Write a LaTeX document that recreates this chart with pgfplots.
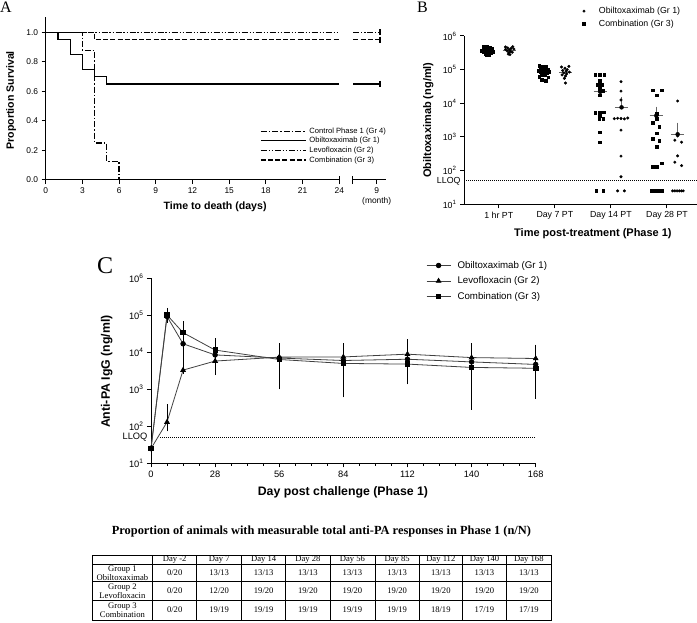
\documentclass[border=0pt]{standalone}
\usepackage{pgfplots}
\pgfplotsset{compat=1.18}
\usepackage{fontspec}
\setmainfont{Liberation Sans}
\newfontfamily\timesfont{Liberation Serif}

\pgfplotsset{
  gp/.style={scale only axis, axis x line*=bottom, axis y line*=left,
    axis line style={line width=1pt, black}, tick style={line width=1pt, black},
    tick align=outside, major tick length=4pt, minor tick length=2.5pt,
    /pgf/number format/assume math mode=true, clip=false},
  meanl/.style={gray!80!black, line width=1pt, mark=none, forget plot},
  semb/.style={only marks, mark=none, forget plot, error bars/y dir=plus, error bars/y explicit,
    error bars/error bar style={draw=gray!80!black, line width=1pt},
    error bars/error mark options={draw=gray!80!black, mark size=3.5pt, line width=1pt}},
  mklegend/.style={legend image code/.code={\path[draw=none] (0pt,0pt) -- (26pt,0pt); \draw[##1, only marks, mark indices={2}] plot coordinates {(0pt,0pt) (13pt,0pt) (26pt,0pt)};}},
  sq/.style={only marks, mark=square*, mark size=1.35pt, black, mklegend},
  dt/.style={only marks, mark=*, mark size=1.3pt, black, mklegend},
  cyc/.style={black!75, line width=0.8pt, mark options={black, solid}, mark size=2.3pt,
    error bars/y dir=both, error bars/y explicit, error bars/error bar style={black, line width=0.8pt},
    error bars/error mark options={black, mark size=3.5pt, line width=0.8pt}},
}

\pgfplotstableread{
x y ep em
0 25 0 0
7 93000 30000 15000
14 17000 8000 1
28 8500 6500 5000
56 7000 3000 3500
84 6000 4000 4000
112 6500 4000 4000
140 5500 4000 4100
168 4700 4000 3550
}\obilt
\pgfplotstableread{
x y ep em
0 25 0 0
7 130 190 40
14 3300 8700 1
28 5800 1 2800
56 7400 6600 3700
84 7500 6500 4500
112 8900 9100 5400
140 7200 6800 5200
168 6800 6200 4900
}\levo
\pgfplotstableread{
x y ep em
0 25 0 0
7 102000 25000 10000
14 34000 22000 8000
28 11500 7500 3000
56 6400 3000 5170
84 5000 3000 4250
112 4800 3000 3100
140 3900 3000 3550
168 3700 2500 3000
}\comb

\begin{document}
\begin{tikzpicture}
\useasboundingbox (0pt,0pt) rectangle (697pt,-623pt);

% panel letters
\node[font=\timesfont\fontsize{16pt}{16pt}\selectfont, anchor=north west, inner sep=0pt] at (0pt,-2pt) {A};
\node[font=\timesfont\fontsize{16pt}{16pt}\selectfont, anchor=north west, inner sep=0pt] at (417pt,-2pt) {B};
\node[font=\timesfont\fontsize{24pt}{24pt}\selectfont, anchor=north west, inner sep=0pt] at (97pt,-257pt) {C};

% ---------------- Panel A ----------------
\begin{axis}[gp, at={(45.7pt,-180pt)}, anchor=south west,
  width=293.6pt, height=162.6pt, xmin=0, xmax=24, ymin=0, ymax=1.1,
  xtick={0,3,...,24}, ytick={0,0.2,0.4,0.6,0.8,1.0},
  yticklabel style={/pgf/number format/.cd, fixed, fixed zerofill, precision=1},
  tick label style={font=\fontsize{8.4pt}{10pt}\selectfont},
  extra x ticks={24}, extra x tick labels={}, extra x tick style={tick align=center, major tick length=8pt},
  xlabel={Time to death (days)}, ylabel={Proportion Survival},
  label style={font=\bfseries\fontsize{10.6pt}{12pt}\selectfont},
  xlabel style={at={(axis description cs:0.577,0)}, anchor=center, yshift=-26.7pt},
  ylabel style={at={(axis description cs:-0.118,0.49)}, anchor=center},
  legend style={at={(axis description cs:0.72,0.345)}, anchor=north west, draw=none, fill=none,
    font=\fontsize{7.6pt}{8pt}\selectfont, row sep=-0.6pt, nodes={inner sep=1.6pt}},
  legend cell align=left,
  legend image code/.code={\draw[#1] (0pt,0pt) -- (45pt,0pt); \path[draw=none] (0pt,0pt) -- (47pt,0pt);},
]
\addplot[const plot, black, line width=1.2pt, dash pattern=on 6pt off 2pt on 1.5pt off 2pt]
  coordinates {(0,1) (3,0.875) (4,0.25) (5,0.125) (6,0)};
\addlegendentry{Control Phase 1 (Gr 4)}
\addplot[const plot, black, line width=1.2pt]
  coordinates {(0,1) (1,0.95) (2,0.85) (3,0.75) (4,0.70) (5,0.65) (24,0.65)};
\addlegendentry{Obiltoxaximab (Gr 1)}
\addplot[const plot, black, line width=1.2pt, dash pattern=on 6pt off 1.8pt on 1.3pt off 1.8pt on 1.3pt off 1.8pt]
  coordinates {(0,1) (24,1)};
\addlegendentry{Levofloxacin (Gr 2)}
\addplot[const plot, black, line width=1.2pt, dash pattern=on 5pt off 2.2pt]
  coordinates {(0,1) (4,0.95) (24,0.95)};
\addlegendentry{Combination (Gr 3)}
\end{axis}

% month segment
\begin{axis}[gp, axis y line=none, at={(352.7pt,-180pt)}, anchor=south west,
  width=33pt, height=162.6pt, xmin=0, xmax=1, ymin=0, ymax=1.1,
  xtick={0.727}, xticklabels={{9\\(month)}},
  xticklabel style={align=center, font=\fontsize{8.4pt}{10pt}\selectfont},
  extra x ticks={0}, extra x tick labels={}, extra x tick style={tick align=center, major tick length=8pt},
]
\addplot[black, line width=1.2pt, dash pattern=on 6pt off 1.8pt on 1.3pt off 1.8pt on 1.3pt off 1.8pt,
  mark=|, mark indices={2}, mark size=3pt, mark options={solid}] coordinates {(0.02,1) (0.83,1)};
\addplot[black, line width=1.2pt, dash pattern=on 5pt off 2.2pt,
  mark=|, mark indices={2}, mark size=3pt, mark options={solid}] coordinates {(0.02,0.95) (0.83,0.95)};
\addplot[black, line width=1.2pt,
  mark=|, mark indices={2}, mark size=3pt, mark options={solid}] coordinates {(0.02,0.65) (0.83,0.65)};
\end{axis}

% ---------------- Panel B ----------------
\begin{axis}[gp, at={(464pt,-204.3pt)}, anchor=south west,
  width=232.7pt, height=168.3pt, xmin=0.38, xmax=4.53,
  ymode=log, ymin=10, ymax=1000000, yminorticks=false,
  xtick={1,2,3,4}, xticklabels={1 hr PT, Day 7 PT, Day 14 PT, Day 28 PT},
  ytick={10,100,1000,10000,100000,1000000},
  yticklabels={10\textsuperscript{1},10\textsuperscript{2},10\textsuperscript{3},10\textsuperscript{4},10\textsuperscript{5},10\textsuperscript{6}},
  extra y ticks={50}, extra y tick labels={LLOQ}, extra y tick style={major tick length=0pt},
  tick label style={font=\fontsize{8.8pt}{10pt}\selectfont},
  xlabel={Time post-treatment (Phase 1)}, ylabel={Obiltoxaximab (ng/ml)},
  label style={font=\bfseries\fontsize{11pt}{13pt}\selectfont},
  xlabel style={at={(axis description cs:0.554,0)}, anchor=center, yshift=-29pt},
  ylabel style={at={(axis description cs:-0.153,0.50)}, anchor=center},
  legend style={at={(axis description cs:0.446,1.196)}, anchor=north west, draw=none, fill=none,
    font=\fontsize{8.8pt}{10pt}\selectfont, row sep=1pt},
  legend cell align=left,
]
% Obiltoxaximab (Gr 1): dots, right of each category
\addplot[dt] coordinates {
 (1.12,470000)(1.25,480000)(1.16,440000)(1.22,430000)(1.12,400000)(1.19,390000)(1.27,410000)
 (1.15,360000)(1.21,350000)(1.18,320000)(1.24,330000)(1.17,290000)(1.20,280000)
 (2.12,120000)(2.25,125000)(2.18,110000)(2.22,100000)(2.14,95000)(2.20,90000)(2.26,85000)
 (2.16,80000)(2.21,75000)(2.13,70000)(2.19,65000)(2.17,55000)(2.19,40000)
 (3.18,44000)(3.18,23000)(3.18,12600)(3.06,3500)(3.12,3600)(3.18,3550)(3.24,3450)(3.30,3650)
 (3.18,1600)(3.18,270)(3.18,66)(3.12,25)(3.24,25)
 (4.19,11700)(4.19,1070)(4.14,800)(4.26,700)(4.19,275)(4.14,178)(4.26,141)
 (4.10,25)(4.14,25)(4.18,25)(4.22,25)(4.26,25)(4.29,25)
};
\addlegendentry{Obiltoxaximab (Gr 1)}
% Combination (Gr 3): squares, left of each category
\addplot[sq] coordinates {
 (0.72,480000)(0.78,470000)(0.84,450000)(0.88,420000)(0.75,400000)(0.81,390000)(0.86,380000)
 (0.70,370000)(0.77,360000)(0.83,350000)(0.89,340000)(0.73,330000)(0.79,320000)(0.85,310000)
 (0.76,300000)(0.81,290000)(0.78,280000)(0.82,275000)(0.80,270000)
 (1.72,130000)(1.78,125000)(1.84,120000)(1.75,110000)(1.81,105000)(1.87,100000)(1.71,95000)
 (1.77,92000)(1.83,90000)(1.89,88000)(1.74,85000)(1.80,80000)(1.86,78000)(1.76,72000)
 (1.82,70000)(1.72,62000)(1.88,60000)(1.77,50000)(1.84,48000)
 (2.72,72000)(2.80,72000)(2.88,72000)(2.80,47000)(2.76,35000)(2.84,35000)(2.80,27500)(2.85,24000)
 (2.80,17400)(2.72,5200)(2.80,5200)(2.87,5400)(2.80,4200)(2.79,3550)(2.86,3550)(2.80,1400)(2.80,700)
 (2.74,25)(2.86,25)
 (3.74,24500)(3.91,24500)(3.82,17400)(3.82,5000)(3.82,3550)(3.75,2630)(3.86,2000)(3.82,1290)
 (3.75,870)(3.86,780)(3.82,525)(3.90,166)(3.75,132)(3.82,132)
 (3.73,25)(3.78,25)(3.82,25)(3.86,25)(3.91,25)
};
\addlegendentry{Combination (Gr 3)}
% means
\addplot[meanl] coordinates {(0.69,370000)(0.93,370000)};
\addplot[meanl] coordinates {(1.07,380000)(1.31,380000)};
\addplot[meanl] coordinates {(1.69,85000)(1.93,85000)};
\addplot[meanl] coordinates {(2.07,82000)(2.31,82000)};
\addplot[meanl] coordinates {(2.69,22000)(2.93,22000)};
\addplot[meanl] coordinates {(3.07,7600)(3.31,7600)};
\addplot[meanl] coordinates {(3.69,4300)(3.93,4300)};
\addplot[meanl] coordinates {(4.07,1200)(4.31,1200)};
\addplot[semb] coordinates {(2.81,22000) +- (0,5000) (3.19,7600) +- (0,4400) (3.81,4300) +- (0,2000) (4.19,1200) +- (0,900)};
% LLOQ
\addplot[black, line width=1pt, densely dotted, forget plot] coordinates {(0.38,50) (4.53,50)};
\end{axis}

% ---------------- Panel C ----------------
\begin{axis}[gp, at={(151pt,-463.3pt)}, anchor=south west,
  width=384.7pt, height=185pt, xmin=0, xmax=168,
  ymode=log, ymin=10, ymax=1000000, yminorticks=false,
  xtick={0,28,...,168}, minor x tick num=3,
  ytick={10,100,1000,10000,100000,1000000},
  yticklabels={10\textsuperscript{1},10\textsuperscript{2},10\textsuperscript{3},10\textsuperscript{4},10\textsuperscript{5},10\textsuperscript{6}},
  extra y ticks={50}, extra y tick labels={LLOQ}, extra y tick style={major tick length=0pt},
  tick label style={font=\fontsize{9.3pt}{11pt}\selectfont},
  xlabel={Day post challenge (Phase 1)}, ylabel={Anti-PA IgG (ng/ml)},
  label style={font=\bfseries\fontsize{12.3pt}{14pt}\selectfont},
  xlabel style={at={(axis description cs:0.499,0)}, anchor=center, yshift=-29pt},
  ylabel style={at={(axis description cs:-0.115,0.495)}, anchor=center},
  legend style={at={(axis description cs:0.707,1.115)}, anchor=north west, draw=none, fill=none,
    font=\fontsize{9.7pt}{11pt}\selectfont, row sep=3pt},
  legend cell align=left,
  legend image code/.code={\draw[mark repeat=2, mark phase=2, #1] plot coordinates {(0pt,0pt) (12pt,0pt) (24pt,0pt)}; \path[draw=none] (0pt,0pt) -- (29pt,0pt);},
]
\addplot[black, line width=1pt, densely dotted, forget plot] coordinates {(4,50) (168,50)};
\addplot[cyc, mark=*] table[x=x, y=y, y error plus=ep, y error minus=em] {\obilt};
\addlegendentry{Obiltoxaximab (Gr 1)}
\addplot[cyc, mark=triangle*, mark size=2.6pt] table[x=x, y=y, y error plus=ep, y error minus=em] {\levo};
\addlegendentry{Levofloxacin (Gr 2)}
\addplot[cyc, mark=square*, mark size=2.2pt] table[x=x, y=y, y error plus=ep, y error minus=em] {\comb};
\addlegendentry{Combination (Gr 3)}
\end{axis}

% ---------------- Table ----------------
\node[font=\timesfont\bfseries\fontsize{12.4pt}{14pt}\selectfont, anchor=center] at (321.4pt,-531.7pt)
  {Proportion of animals with measurable total anti-PA responses in Phase 1 (n/N)};
\draw[line width=0.8pt] (92pt,-555.7pt) rectangle (551pt,-620pt);
\foreach \yy in {564.3,581.7,600} \draw[line width=0.8pt] (92pt,-\yy pt) -- (551pt,-\yy pt);
\foreach \xx in {152.7,196.7,241.7,285.7,330,375,419.3,462.3,506.7} \draw[line width=0.8pt] (\xx pt,-555.7pt) -- (\xx pt,-620pt);
\begin{scope}[every node/.style={font=\timesfont\fontsize{8.6pt}{9.3pt}\selectfont, anchor=center, inner sep=0pt, align=center}]
\foreach \cx/\t in {174.7/Day -2, 219.2/Day 7, 263.7/Day 14, 307.9/Day 28, 352.5/Day 56, 397.2/Day 85, 440.8/Day 112, 484.5/Day 140, 528.9/Day 168}
  \node at (\cx pt,-560pt) {\t};
\node at (122.4pt,-573pt) {Group 1\\Obiltoxaximab};
\node at (122.4pt,-590.9pt) {Group 2\\Levofloxacin};
\node at (122.4pt,-610pt) {Group 3\\Combination};
\foreach \cx/\a/\b/\c in {174.7/0\slash20/0\slash20/0\slash20, 219.2/13\slash13/12\slash20/19\slash19,
  263.7/13\slash13/19\slash20/19\slash19, 307.9/13\slash13/19\slash20/19\slash19,
  352.5/13\slash13/19\slash20/19\slash19, 397.2/13\slash13/19\slash20/19\slash19,
  440.8/13\slash13/19\slash20/18\slash19, 484.5/13\slash13/19\slash20/17\slash19,
  528.9/13\slash13/19\slash20/17\slash19}
{
  \node at (\cx pt,-573pt) {\a};
  \node at (\cx pt,-590.9pt) {\b};
  \node at (\cx pt,-610pt) {\c};
}
\end{scope}
\end{tikzpicture}
\end{document}
